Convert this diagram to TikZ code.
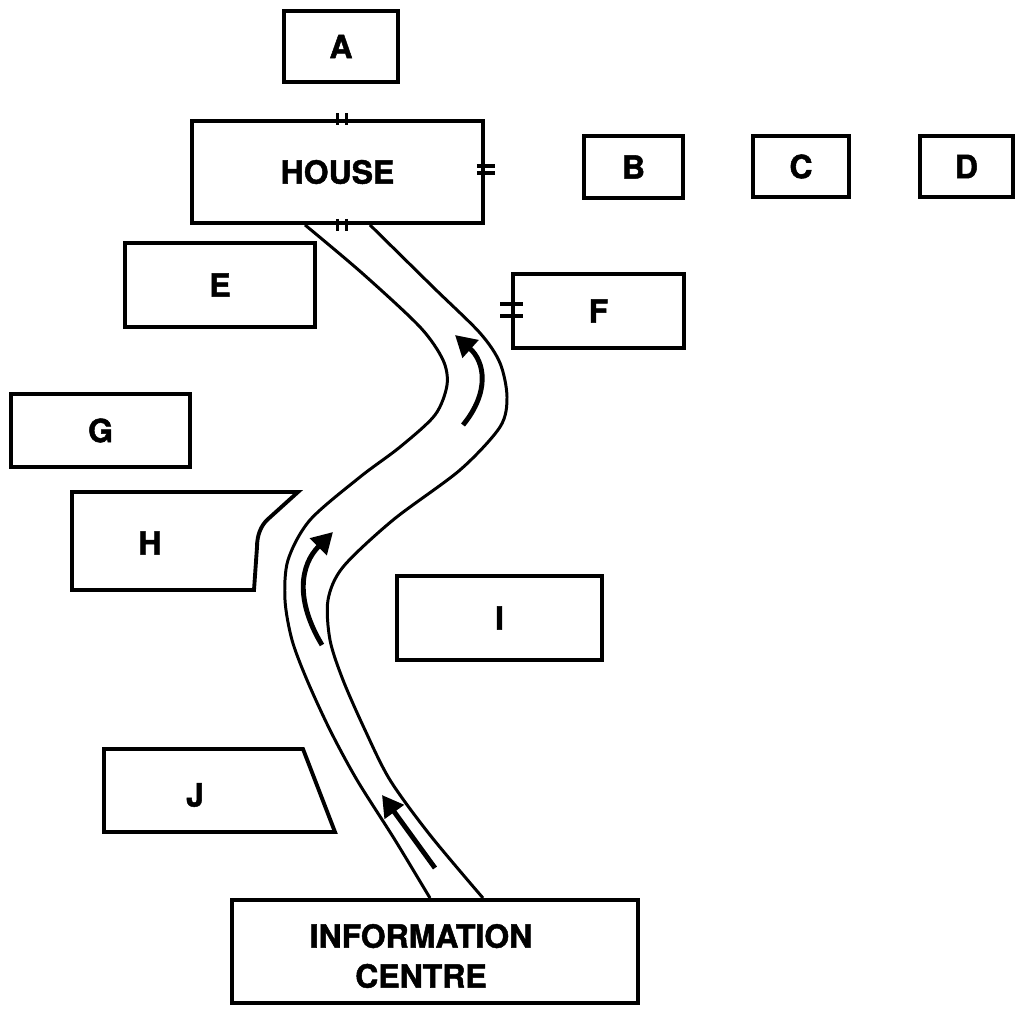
\documentclass[tikz,border=0pt]{standalone}
\usepackage{fontspec}
\setsansfont[BoldFeatures={FakeBold=1.5}]{TeX Gyre Heros}
\usetikzlibrary{arrows.meta}
\usetikzlibrary{calc}

\begin{document}
\begin{tikzpicture}[x=0.02cm, y=-0.02cm,
        every node/.style={font=\sffamily\bfseries\fontsize{18.2}{22.7}\selectfont},
        lot/.style 2 args={draw, line width=2.2pt, inner sep=0pt, minimum width=#1*0.02cm, minimum height=#2*0.02cm},
        road/.style={line width=1.7pt},
        way/.style={line width=2.8pt, -{Triangle[length=0.42cm, width=0.46cm]}},
        gate/.style={line width=2.1pt}]
                \useasboundingbox (0,0) rectangle (1024,1015);
                \node[lot={114}{71}] (A) at (341,46.5) {A};
                \node[lot={291}{102}] (house) at (337.5,172) {HOUSE};
                \node[lot={99}{62}] (B) at (633.5,167) {B};
                \node[lot={96}{61}] (C) at (801,166.5) {C};
                \node[lot={93}{61}] (D) at (966.5,166.5) {D};
                \node[lot={190}{84}] (E) at (220,285) {E};
                \node[lot={171}{74}] (F) at (598.5,311) {F};
                \node[lot={179}{73}] (G) at (100.5,430.5) {G};
                \node[lot={205}{84}] (I) at (499.5,618) {I};
                \node[lot={406}{103}] (info) at (435,951.5) {};
                \node[align=center] (infotext) at (421,956) {INFORMATION\\CENTRE};
                % odd shaped lots
                \draw[line width=2.2pt] (72,492) -- (298,492) -- (267,520) .. controls (261,526) and (257,535) .. (257,547) -- (254,590) -- (72,590) -- cycle;
                \node (H) at (150,543) {H};
                \draw[line width=2.2pt] (104,749) -- (303,749) -- (335,832) -- (104,832) -- cycle;
                \node (J) at (195,795) {J};
                % doors
                \draw[gate] ($(house.north) + (0,-6)$) -- ++(0,12);
                \draw[gate] ($(house.north) + (9,-6)$) -- ++(0,12);
                \draw[gate] ($(house.south) + (0,-6)$) -- ++(0,12);
                \draw[gate] ($(house.south) + (9,-6)$) -- ++(0,12);
                \draw[gate] ($(house.east) + (-8,-6)$) -- ++(18,0);
                \draw[gate] ($(house.east) + (-8,1)$) -- ++(18,0);
                \draw[gate] ($(F.west) + (-11,-7)$) -- ++(23,0);
                \draw[gate] ($(F.west) + (-11,5)$) -- ++(23,0);
                % path
                \coordinate (l0) at ($(house.south) + (-32.5,0)$);
                \coordinate (r0) at ($(house.south) + (32.5,0)$);
                \coordinate (l1) at ($(info.north) + (-5,0)$);
                \coordinate (r1) at ($(info.north) + (48,0)$);
                \draw[road] plot[smooth] coordinates {(l0) (362,273) (420,327) (443,360) (447,385) (435,415) (400,447) (360,477) (310,520) (288,560) (285,600) (292,640) (307,680) (330,730) (357,780) (395,840) (l1)};
                \draw[road] plot[smooth] coordinates {(r0) (433,287) (480,333) (500,363) (507,397) (500,427) (460,470) (393,520) (343,567) (328,600) (330,640) (343,680) (365,730) (390,780) (430,835) (r1)};
                \draw[way] (463,425) .. controls (490,392) and (485,362) .. (455,335);
                \draw[way] (322,645) .. controls (295,600) and (300,565) .. (333,532);
                \draw[way] (435,868) -- (382,795);
\end{tikzpicture}
\end{document}
